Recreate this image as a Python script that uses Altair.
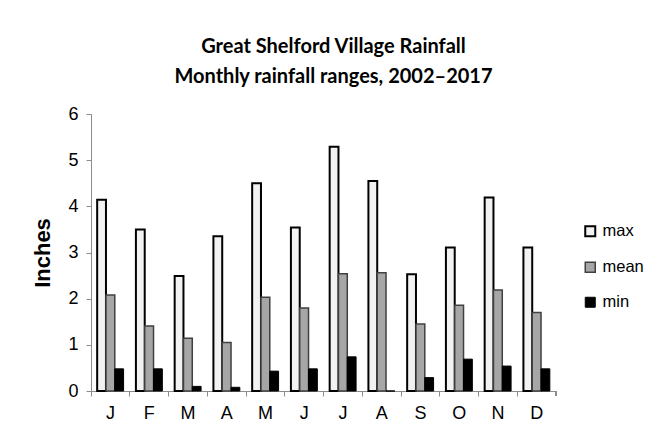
import altair as alt
import pandas as pd

months = ["Jan", "Feb", "Mar", "Apr", "May", "Jun", "Jul", "Aug", "Sep", "Oct", "Nov", "Dec"]
month_labels = ["J", "F", "M", "A", "M", "J", "J", "A", "S", "O", "N", "D"]
series = ["max", "mean", "min"]
max_vals = [4.14, 3.50, 2.49, 3.35, 4.50, 3.54, 5.29, 4.55, 2.53, 3.11, 4.19, 3.11]
mean_vals = [2.08, 1.41, 1.14, 1.05, 2.03, 1.80, 2.54, 2.56, 1.45, 1.86, 2.19, 1.70]
min_vals = [0.48, 0.48, 0.10, 0.08, 0.43, 0.48, 0.74, 0.00, 0.29, 0.69, 0.54, 0.48]

rows = []
for i, m in enumerate(months):
    rows.append({"month": m, "series": "max", "value": max_vals[i]})
    rows.append({"month": m, "series": "mean", "value": mean_vals[i]})
    rows.append({"month": m, "series": "min", "value": min_vals[i]})
df = pd.DataFrame(rows)

W, H = 465, 277
label_map = "{" + ",".join(f"'{m}':'{l}'" for m, l in zip(months, month_labels)) + "}"

fill_scale = alt.Scale(domain=series, range=["#f2f2f2", "#a6a6a6", "#000000"])
stroke_scale = alt.Scale(domain=series, range=["#000000", "#404040", "#000000"])
sw_scale = alt.Scale(domain=series, range=[2, 1, 0])

legend = alt.Legend(
    title=None, orient="none", legendX=491, legendY=109,
    symbolType="square", symbolSize=100, symbolStrokeWidth=1.5,
    labelFont="Liberation Sans", labelFontSize=16.5, labelColor="#000000",
    rowPadding=18, labelOffset=4,
)

bars = alt.Chart(df).mark_bar().encode(
    x=alt.X("month:N", sort=months,
            scale=alt.Scale(paddingInner=0, paddingOuter=0),
            axis=alt.Axis(title=None, bandPosition=0, labelAngle=0,
                          labelExpr=f"{label_map}[datum.value]",
                          labelFont="Liberation Sans", labelFontSize=18, labelColor="#000000",
                          labelPadding=8, tickSize=5, domainColor="#8c8c8c", tickColor="#8c8c8c")),
    xOffset=alt.XOffset("series:N", sort=series, scale=alt.Scale(paddingOuter=0.7, paddingInner=0)),
    y=alt.Y("value:Q", scale=alt.Scale(domain=[0, 6]),
            axis=alt.Axis(title="Inches", values=[0, 1, 2, 3, 4, 5, 6], grid=False,
                          labelFont="Liberation Sans", labelFontSize=18, labelColor="#000000",
                          labelPadding=8, tickSize=5, domainColor="#8c8c8c", tickColor="#8c8c8c",
                          titleFont="Liberation Sans", titleFontSize=22, titleFontWeight="bold",
                          titleColor="#000000", titlePadding=13)),
    fill=alt.Fill("series:N", scale=fill_scale, sort=series, legend=legend),
    stroke=alt.Stroke("series:N", scale=stroke_scale, sort=series, legend=legend),
    strokeWidth=alt.StrokeWidth("series:N", scale=sw_scale, legend=None),
)

end_tick = alt.Chart(df).mark_rule(color="#8c8c8c").encode(
    x=alt.value(W), y=alt.value(H), y2=alt.value(H + 5)
)

chart = alt.layer(bars, end_tick).properties(
    width=W, height=H,
    padding={"left": 83, "top": 106, "right": 100, "bottom": 40},
    autosize=alt.AutoSizeParams(type="none"),
    title=alt.TitleParams(
        ["Great Shelford Village Rainfall", "Monthly rainfall ranges, 2002\u20132017"],
        font="Lato", fontSize=20, fontWeight="bold", color="#000000",
        anchor="middle", frame="group", dx=10, offset=18, lineHeight=30,
    ),
).configure_view(stroke=None)

chart.save("out.html", embed_options={"renderer": "svg", "actions": False})
